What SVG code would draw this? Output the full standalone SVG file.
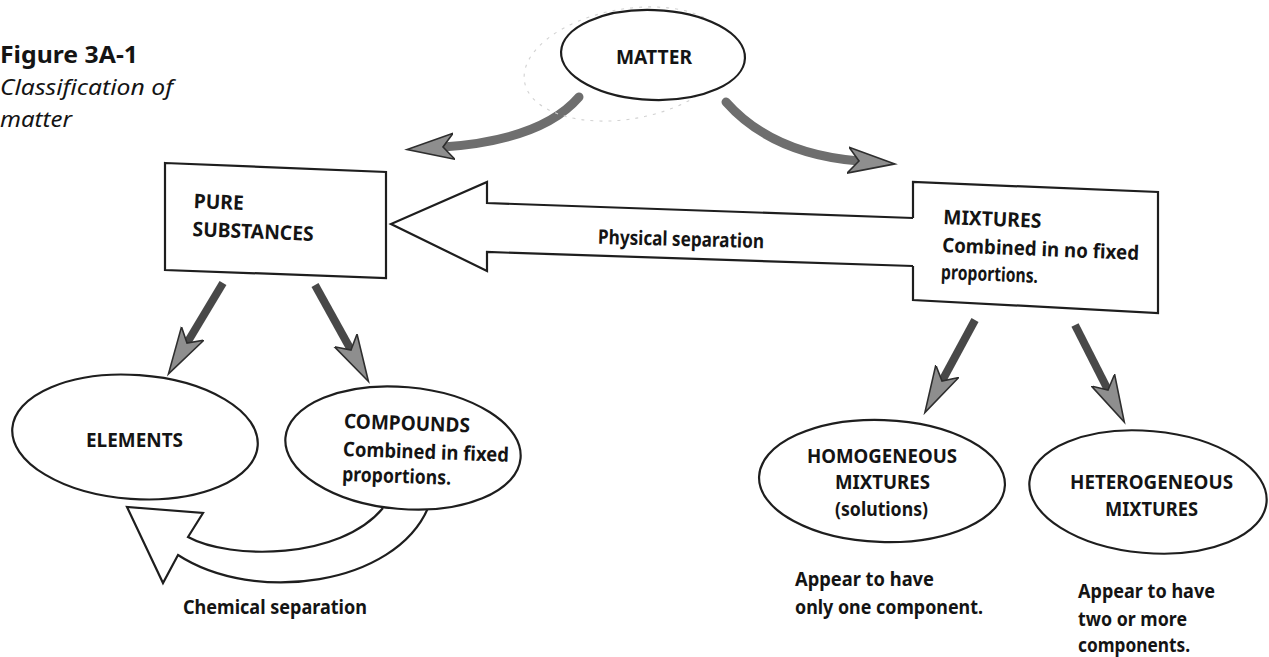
<svg xmlns="http://www.w3.org/2000/svg" width="1269" height="657" viewBox="0 0 1269 657">
<defs>
<style>
.t{font-family:"Noto Sans","Liberation Sans",sans-serif;font-weight:700;font-size:20px;fill:#141414}
.cap{font-family:"Noto Sans","Liberation Sans",sans-serif;fill:#141414}
.shape{fill:#fff;stroke:#1e1e1e;stroke-width:2.2}
.open{fill:#fff;stroke:#1e1e1e;stroke-width:2.2;stroke-linejoin:miter}
.shaft{fill:none;stroke:#484848;stroke-width:8;stroke-linecap:butt}
.curve{fill:none;stroke:#6e6e6e;stroke-width:9;stroke-linecap:round}
</style>
<marker id="head" viewBox="0 -16 50 32" refX="11" refY="0" markerWidth="50" markerHeight="32" markerUnits="userSpaceOnUse" orient="auto">
<path d="M0,-13 L47,0 L0,13 L11,0 Z" fill="#8e8e8e" stroke="#2e2e2e" stroke-width="1.6" stroke-linejoin="miter"/>
</marker>
</defs>
<rect width="1269" height="657" fill="#fff"/>

<g id="caption">
<text class="cap" x="0" y="63" font-size="23" font-weight="700" textLength="138" lengthAdjust="spacingAndGlyphs">Figure 3A-1</text>
<text class="cap" x="0" y="95" font-size="22" font-style="italic" textLength="173" lengthAdjust="spacingAndGlyphs">Classification of</text>
<text class="cap" x="0" y="127" font-size="22" font-style="italic" textLength="72" lengthAdjust="spacingAndGlyphs">matter</text>
</g>

<g id="connectors">
<path class="curve" d="M579,97 Q542,140 443,147" marker-end="url(#head)"/>
<path class="curve" d="M726,102 Q772,154 859,161" marker-end="url(#head)"/>
<path class="shaft" d="M223,283 L187,343" marker-end="url(#head)"/>
<path class="shaft" d="M315,285 L351,350" marker-end="url(#head)"/>
<path class="shaft" d="M975,320 L942,381" marker-end="url(#head)"/>
<path class="shaft" d="M1075,325 L1108,390" marker-end="url(#head)"/>
<g id="physical-separation">
<path class="open" d="M913,218 L487,203 L487,182 L391,224 L487,271 L487,252 L913,266"/>
<text class="t" x="598" y="246" textLength="166" lengthAdjust="spacingAndGlyphs" transform="rotate(1.5 680 240)">Physical separation</text>
</g>
<g id="chemical-separation">
<path class="open" d="M428,508 C395,585 255,605 178,555 L163,583 L127,507 L203,513 L188,537 C230,560 340,560 383,508"/>
<text class="t" x="183" y="614" textLength="184" lengthAdjust="spacingAndGlyphs">Chemical separation</text>
</g>
</g>

<g id="matter">
<ellipse cx="627" cy="64" rx="104" ry="55" transform="rotate(-10 627 64)" fill="none" stroke="#d2d2d2" stroke-width="1.1" stroke-dasharray="3 6"/>
<ellipse class="shape" cx="653" cy="55" rx="92" ry="45" transform="rotate(2 653 55)"/>
<text class="t" x="616" y="64" font-size="21" textLength="76" lengthAdjust="spacingAndGlyphs">MATTER</text>
</g>

<g id="pure-substances">
<path class="shape" d="M165,163 L386,172 L386,278 L165,270 Z"/>
<g transform="rotate(2.3 193 220)">
<text class="t" x="193" y="208" textLength="50" lengthAdjust="spacingAndGlyphs">PURE</text>
<text class="t" x="193" y="236" textLength="121" lengthAdjust="spacingAndGlyphs">SUBSTANCES</text>
</g>
</g>

<g id="mixtures">
<path class="open" d="M913,218 L913,182 L1158,192 L1158,313 L913,300 L913,266" fill="none"/>
<g transform="rotate(2.3 942 250)">
<text class="t" x="942" y="224" textLength="98" lengthAdjust="spacingAndGlyphs">MIXTURES</text>
<text class="t" x="942" y="252" textLength="197" lengthAdjust="spacingAndGlyphs">Combined in no fixed</text>
<text class="t" x="942" y="279" textLength="97" lengthAdjust="spacingAndGlyphs">proportions.</text>
</g>
</g>

<g id="elements">
<ellipse class="shape" cx="135" cy="437" rx="123" ry="62" transform="rotate(4 135 437)"/>
<text class="t" x="86" y="447" textLength="97" lengthAdjust="spacingAndGlyphs">ELEMENTS</text>
</g>

<g id="compounds">
<ellipse class="shape" cx="403" cy="448" rx="118" ry="61" transform="rotate(5 403 448)"/>
<g transform="rotate(2 343 450)">
<text class="t" x="343" y="428" textLength="126" lengthAdjust="spacingAndGlyphs">COMPOUNDS</text>
<text class="t" x="343" y="456" textLength="166" lengthAdjust="spacingAndGlyphs">Combined in fixed</text>
<text class="t" x="343" y="481" textLength="109" lengthAdjust="spacingAndGlyphs">proportions.</text>
</g>
</g>

<g id="homogeneous">
<ellipse class="shape" cx="882" cy="481" rx="123" ry="61" transform="rotate(2 882 481)"/>
<text class="t" x="807" y="463" textLength="150" lengthAdjust="spacingAndGlyphs">HOMOGENEOUS</text>
<text class="t" x="835" y="489" textLength="95" lengthAdjust="spacingAndGlyphs">MIXTURES</text>
<text class="t" x="835" y="516" textLength="93" lengthAdjust="spacingAndGlyphs">(solutions)</text>
<text class="t" x="795" y="586" textLength="139" lengthAdjust="spacingAndGlyphs">Appear to have</text>
<text class="t" x="795" y="614" textLength="188" lengthAdjust="spacingAndGlyphs">only one component.</text>
</g>

<g id="heterogeneous">
<ellipse class="shape" cx="1148" cy="492" rx="119" ry="61" transform="rotate(5 1148 492)"/>
<text class="t" x="1070" y="489" textLength="163" lengthAdjust="spacingAndGlyphs">HETEROGENEOUS</text>
<text class="t" x="1105" y="516" textLength="93" lengthAdjust="spacingAndGlyphs">MIXTURES</text>
<text class="t" x="1078" y="598" textLength="137" lengthAdjust="spacingAndGlyphs">Appear to have</text>
<text class="t" x="1078" y="626" textLength="109" lengthAdjust="spacingAndGlyphs">two or more</text>
<text class="t" x="1078" y="652" textLength="112" lengthAdjust="spacingAndGlyphs">components.</text>
</g>
</svg>
